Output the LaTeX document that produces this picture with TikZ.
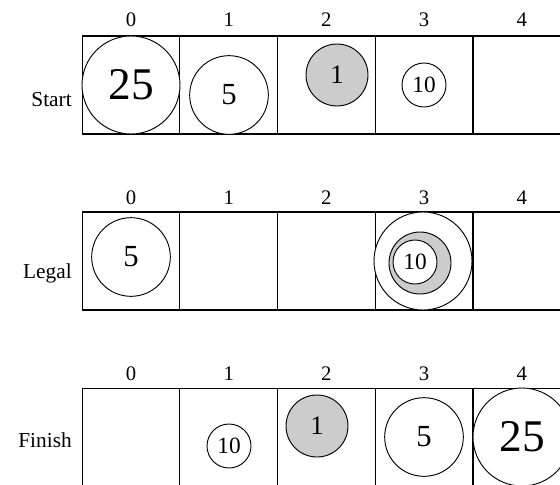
\documentclass[tikz,border=0pt]{standalone}
\usepackage{fontspec}
\setmainfont{Liberation Serif}
\tikzstyle{cell} = [
    rectangle,
    minimum width=73.3pt,
    minimum height=73.5pt,
    inner sep=0pt,
    line width=0.8pt,
    draw=black
]
\tikzstyle{collabel} = [anchor=base, inner sep=0pt, font=\fontsize{15.5}{16}\selectfont]
\tikzstyle{rowlabel} = [anchor=base east, inner sep=0pt, font=\fontsize{16}{17}\selectfont]
\tikzstyle{coin} = [circle, draw=black, line width=0.7pt, fill=white, inner sep=0pt]
\tikzstyle{quarter} = [coin, minimum size=73.5pt, font=\fontsize{34}{34}\selectfont]
\tikzstyle{nickel} = [coin, minimum size=59pt, font=\fontsize{23}{23}\selectfont]
\tikzstyle{penny} = [coin, minimum size=46.5pt, fill=black!20, font=\fontsize{20}{20}\selectfont]
\tikzstyle{dime} = [coin, minimum size=33pt, font=\fontsize{17.5}{18}\selectfont]

\begin{document}
\begin{tikzpicture}[x=0.75pt, y=-0.75pt]
\clip (0,0) rectangle (560,485);
\fill[white] (0,0) rectangle (560,485);

% the three rows of cells
\foreach \i in {0,...,4} {
    \node (s\i) [cell] at ({131+97.7*\i}, 85) {};
    \node (l\i) [cell] at ({131+97.7*\i}, 261) {};
    \node (f\i) [cell] at ({131+97.7*\i}, 437.5) {};
    \node (sn\i) [collabel] at ({131+97.7*\i}, 27) {\i};
    \node (ln\i) [collabel] at ({131+97.7*\i}, 204) {\i};
    \node (fn\i) [collabel] at ({131+97.7*\i}, 380) {\i};
}

\node (start) [rowlabel] at (72, 106) {Start};
\node (legal) [rowlabel] at (72, 278) {Legal};
\node (finish) [rowlabel] at (72, 447) {Finish};

% Start
\node (sq) [quarter] at (131, 85) {25};
\node (sk) [nickel] at (229, 95) {5};
\node (sp) [penny] at (337, 75) {1};
\node (sd) [dime] at (424, 85) {10};

% Legal
\node (lk) [nickel] at (131, 257) {5};
\node (lq) [quarter] at (423, 261) {};
\node (lp) [penny] at (420, 263) {};
\node (ld) [dime] at (415, 262) {10};

% Finish
\node (fd) [dime] at (229, 446) {10};
\node (fp) [penny] at (317, 426) {1};
\node (fk) [nickel] at (424, 437) {5};
\node (fq) [quarter] at (522, 437) {25};

\end{tikzpicture}
\end{document}
